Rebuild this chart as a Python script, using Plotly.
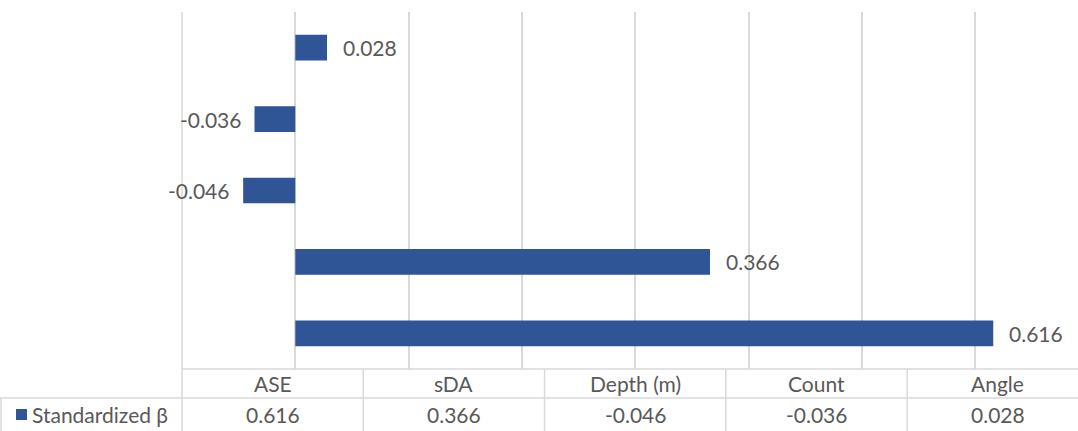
import plotly.graph_objects as go

# Standardized regression coefficients per predictor
categories = ["ASE", "sDA", "Depth (m)", "Count", "Angle"]
beta = [0.616, 0.366, -0.046, -0.036, 0.028]
series_name = "Standardized β"

BAR_COLOR = "#2F5597"
GRID_COLOR = "#D9D9D9"
TEXT_COLOR = "#595959"
FONT = "Lato"
FS = 21

W, H = 1078, 431
M_L, M_R, M_T, M_B = 182, 0, 12, 62
X_MIN, X_MAX = -0.1, 0.6908

fig = go.Figure()
fig.add_trace(go.Bar(
    x=beta,
    y=categories,
    orientation="h",
    marker=dict(color=BAR_COLOR, line=dict(width=0)),
    width=0.36,
    name=series_name,
    hoverinfo="x+y",
))


def px_x(v):
    """Data x value -> paper fraction."""
    return (v - X_MIN) / (X_MAX - X_MIN)


def px_y(pix):
    """Pixel row (from top) -> paper fraction."""
    plot_h = H - M_T - M_B
    return (H - M_B - pix) / plot_h


def pix_x(pix):
    plot_w = W - M_L - M_R
    return (pix - M_L) / plot_w


shapes = []
annotations = []

# Value labels just beyond each bar end
for cat, v in zip(categories, beta):
    annotations.append(dict(
        x=v, y=cat, xref="x", yref="y", text=f"{v:.3f}", showarrow=False,
        xanchor="left" if v >= 0 else "right", yanchor="middle",
        xshift=14 if v >= 0 else -12,
        font=dict(family=FONT, size=FS, color=TEXT_COLOR)))

# Data table below the plot: one column per category
col_w = 0.16
col_edges = [X_MIN + i * col_w for i in range(len(categories) + 1)]
row_top, row_mid, row_bot = H - M_B, 398, H

line = dict(color=GRID_COLOR, width=1.5)
shapes.append(dict(type="line", xref="paper", yref="paper",
                   x0=0, x1=1.05, y0=px_y(row_top), y1=px_y(row_top), line=line))
shapes.append(dict(type="line", xref="paper", yref="paper",
                   x0=pix_x(0), x1=1.05, y0=px_y(row_mid), y1=px_y(row_mid), line=line))
shapes.append(dict(type="line", xref="paper", yref="paper",
                   x0=pix_x(1), x1=pix_x(1), y0=px_y(row_mid), y1=px_y(row_bot), line=line))
for i, e in enumerate(col_edges):
    top = M_T if i == 0 else row_top
    shapes.append(dict(type="line", xref="paper", yref="paper",
                       x0=px_x(e), x1=px_x(e), y0=px_y(top), y1=px_y(row_bot), line=line))

for i, (cat, v) in enumerate(zip(categories, beta)):
    cx = px_x(col_edges[i] + col_w / 2)
    annotations.append(dict(x=cx, y=px_y((row_top + row_mid) / 2), xref="paper", yref="paper",
                            xanchor="center", yanchor="middle",
                            text=cat, showarrow=False,
                            font=dict(family=FONT, size=FS, color=TEXT_COLOR)))
    annotations.append(dict(x=cx, y=px_y((row_mid + row_bot) / 2), xref="paper", yref="paper",
                            xanchor="center", yanchor="middle",
                            text=f"{v:.3f}", showarrow=False,
                            font=dict(family=FONT, size=FS, color=TEXT_COLOR)))

# Legend key inside the table
shapes.append(dict(type="rect", xref="paper", yref="paper",
                   x0=pix_x(16), x1=pix_x(27), y0=px_y(420), y1=px_y(409),
                   fillcolor=BAR_COLOR, line=dict(width=0)))
annotations.append(dict(x=pix_x(30), y=px_y((row_mid + row_bot) / 2), xref="paper", yref="paper",
                        xanchor="left", yanchor="middle", text=series_name, showarrow=False,
                        font=dict(family=FONT, size=FS, color=TEXT_COLOR)))

fig.update_layout(
    width=W, height=H,
    margin=dict(l=M_L, r=M_R, t=M_T, b=M_B, pad=0),
    paper_bgcolor="white", plot_bgcolor="white",
    showlegend=False,
    xaxis=dict(range=[X_MIN, X_MAX], dtick=0.1, tick0=0, showticklabels=False,
               showgrid=True, gridcolor=GRID_COLOR, gridwidth=1.5,
               zeroline=False, showline=False, ticks=""),
    yaxis=dict(categoryorder="array", categoryarray=categories,
               showticklabels=False, showgrid=False, zeroline=False,
               showline=False, ticks=""),
    shapes=shapes,
    annotations=annotations,
)

fig.write_html("out.html")
